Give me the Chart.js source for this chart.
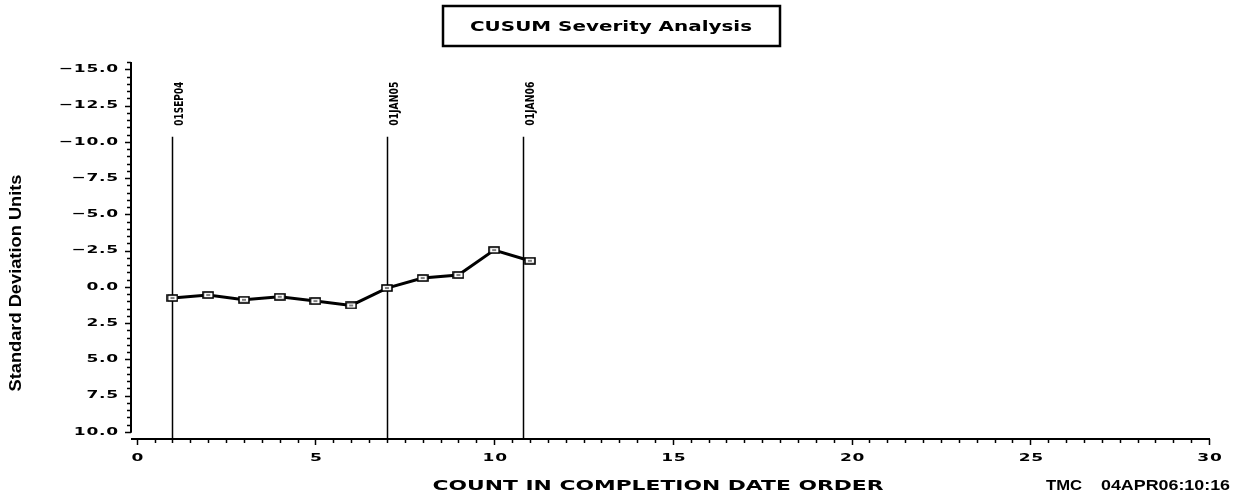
<!DOCTYPE html>
<html>
<head>
<meta charset="utf-8">
<title>CUSUM Severity Analysis</title>
<script src="https://cdn.jsdelivr.net/npm/chart.js"></script>
<style>
  html, body { margin: 0; padding: 0; background: #fff; }
  #wrap { width: 1234px; height: 498px; position: relative; }
</style>
</head>
<body>
<div id="wrap"><canvas id="cusum"></canvas></div>
<script>
// ---------- data ----------
const counts = [1, 2, 3, 4, 5, 6, 7, 8, 9, 10, 11];
const cusum = [0.78, 0.57, 0.90, 0.69, 0.99, 1.29, 0.09, -0.60, -0.81, -2.53, -1.79];

// date reference lines
const refPos = [1, 7, 10.82];
const refLabels = ["01SEP04", "01JAN05", "01JAN06"];
const refTop = -10.35;

// axis ticks
const xTicks = [0, 5, 10, 15, 20, 25, 30];
const yTicks = [-15, -12.5, -10, -7.5, -5, -2.5, 0, 2.5, 5, 7.5, 10];

const titleText = "CUSUM Severity Analysis";
const xTitle = "COUNT IN COMPLETION DATE ORDER";
const yTitle = "Standard Deviation Units";
const stamp = ["TMC", "04APR06:10:16"];

// ---------- helpers ----------
function drawText(ctx, str, x, y, font, o = {}) {
  ctx.save();
  ctx.font = font;
  ctx.letterSpacing = o.ls || "0px";
  ctx.translate(x, y);
  if (o.rot) ctx.rotate(o.rot);
  let sx = o.sx || 1;
  if (o.width) sx = o.width / ctx.measureText(str).width;
  ctx.scale(sx, 1);
  ctx.textAlign = o.align || "center";
  ctx.textBaseline = "middle";
  ctx.fillStyle = "#000";
  ctx.fillText(str, 0, 0);
  ctx.restore();
}

const fmtY = v => v.toFixed(1).replace("-", "\u2212");
const tickFont = "bold 11px 'DejaVu Sans', sans-serif";

// hollow rectangle marker
const marker = document.createElement("canvas");
marker.width = 12; marker.height = 8;
(() => {
  const m = marker.getContext("2d");
  m.fillStyle = "#fff";
  m.fillRect(1, 1, 10, 6);
  m.strokeStyle = "#000";
  m.lineWidth = 1.6;
  m.strokeRect(1, 1, 10, 6);
  m.fillStyle = "#000";
  m.fillRect(4, 3.5, 4, 1);
})();

// ---------- axes, reference lines and text ----------
const sasFrame = {
  id: "sasFrame",
  beforeDatasetsDraw(chart) {
    const { ctx, scales: { x, y } } = chart;
    ctx.save();
    ctx.strokeStyle = "#000";
    ctx.lineWidth = 1.5;
    refPos.forEach((v, i) => {
      const px = Math.round(x.getPixelForValue(v)) + 0.5;
      ctx.beginPath();
      ctx.moveTo(px, y.getPixelForValue(refTop));
      ctx.lineTo(px, y.bottom);
      ctx.stroke();
      drawText(ctx, refLabels[i], px + 7, y.getPixelForValue(refTop) - 33,
        "bold 13px 'Liberation Sans Narrow', 'DejaVu Sans Condensed', sans-serif",
        { rot: -Math.PI / 2, width: 44 });
    });
    ctx.restore();
  },
  afterDraw(chart) {
    const { ctx, scales: { x, y } } = chart;
    ctx.save();
    ctx.strokeStyle = "#000";
    ctx.lineWidth = 2;

    // y axis
    const ax = x.left;
    ctx.beginPath();
    ctx.moveTo(ax, y.getPixelForValue(-15.5));
    ctx.lineTo(ax, y.getPixelForValue(10) + 1);
    ctx.stroke();
    ctx.lineWidth = 1.5;
    for (let v = -15.5; v <= 10.001; v += 0.5) {
      const py = Math.round(y.getPixelForValue(v)) + 0.5;
      const major = Math.abs(v / 2.5 - Math.round(v / 2.5)) < 1e-6;
      ctx.beginPath();
      ctx.moveTo(ax, py);
      ctx.lineTo(ax - (major ? 6 : 4), py);
      ctx.stroke();
    }
    yTicks.forEach(v => {
      drawText(ctx, fmtY(v), ax - 12, y.getPixelForValue(v), tickFont,
        { align: "right", sx: 1.55, ls: "0.5px" });
    });

    // x axis
    const ay = y.bottom;
    ctx.lineWidth = 2;
    ctx.beginPath();
    ctx.moveTo(x.left, ay);
    ctx.lineTo(x.getPixelForValue(30) + 1, ay);
    ctx.stroke();
    ctx.lineWidth = 1.5;
    for (let v = 0; v <= 30.001; v += 0.5) {
      const px = Math.round(x.getPixelForValue(v)) + 0.5;
      const major = Math.abs(v / 5 - Math.round(v / 5)) < 1e-6;
      ctx.beginPath();
      ctx.moveTo(px, ay);
      ctx.lineTo(px, ay + (major ? 6 : 4));
      ctx.stroke();
    }
    xTicks.forEach(v => {
      drawText(ctx, String(v), x.getPixelForValue(v) + 1, ay + 19, tickFont,
        { sx: 1.55, ls: "0.5px" });
    });

    // titles
    ctx.lineWidth = 2.5;
    ctx.strokeRect(443, 6, 337, 40);
    drawText(ctx, titleText, 611, 27, "bold 14px 'DejaVu Sans', sans-serif", { width: 282 });
    drawText(ctx, xTitle, 658, 486, "bold 14px 'DejaVu Sans', sans-serif", { width: 451 });
    drawText(ctx, yTitle, 16, 283, "bold 17px 'Liberation Sans Narrow', 'Liberation Sans', sans-serif",
      { rot: -Math.PI / 2, width: 217 });
    drawText(ctx, stamp[0], 1046, 486, "bold 15px 'Liberation Sans Narrow', sans-serif",
      { align: "left", width: 36 });
    drawText(ctx, stamp[1], 1101, 486, "bold 15px 'Liberation Sans Narrow', sans-serif",
      { align: "left", width: 129 });
    ctx.restore();
  }
};

// ---------- chart ----------
new Chart(document.getElementById("cusum"), {
  type: "line",
  data: {
    datasets: [{
      label: "CUSUM",
      data: counts.map((c, i) => ({ x: c, y: cusum[i] })),
      borderColor: "#000",
      borderWidth: 3,
      pointStyle: marker,
      pointRadius: 5,
      tension: 0,
      clip: false
    }]
  },
  options: {
    responsive: true,
    maintainAspectRatio: false,
    animation: false,
    devicePixelRatio: 1,
    layout: { padding: { left: 131, right: 25, top: 62, bottom: 59 } },
    plugins: { legend: { display: false }, tooltip: { enabled: false } },
    scales: {
      x: { type: "linear", display: false, min: -0.16, max: 30 },
      y: { type: "linear", display: false, reverse: true, min: -15.5, max: 10.5 }
    }
  },
  plugins: [sasFrame]
});
</script>
</body>
</html>
